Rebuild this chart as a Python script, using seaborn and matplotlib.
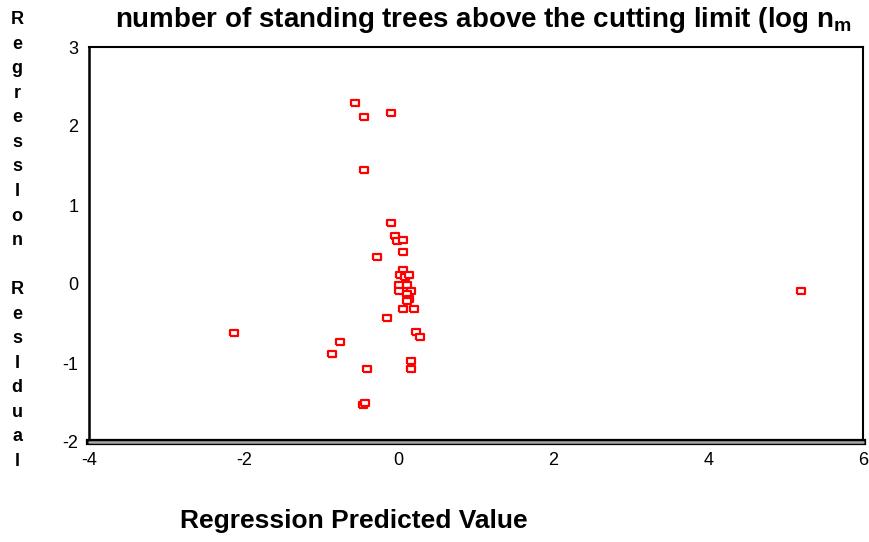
import numpy as np
import pandas as pd
import matplotlib
matplotlib.use("Agg")
import matplotlib.pyplot as plt
import seaborn as sns

# ---- data ----
predicted = [-0.568, -0.452, -0.103, -0.452, -0.103, -0.048, -0.022, 0.052, 0.052,
             -0.280, 0.052, 0.022, 0.077, 0.133, 0.000, 0.103, 0.000, 0.159, 0.103,
             0.133, 0.103, 0.052, 0.203, -0.151, 0.228, 0.280, -2.129, -0.761,
             -0.861, -0.404, 0.155, 0.155, -0.455, -0.430, 5.200]
residual = [2.291, 2.114, 2.165, 1.443, 0.776, 0.608, 0.541, 0.561, 0.409,
            0.346, 0.173, 0.110, 0.089, 0.110, -0.016, -0.016, -0.085, -0.085, -0.127,
            -0.190, -0.211, -0.320, -0.320, -0.430, -0.604, -0.667, -0.620, -0.734,
            -0.882, -1.080, -0.971, -1.080, -1.532, -1.510, -0.089]
x_ticks = [-4, -2, 0, 2, 4, 6]
y_ticks = [-2, -1, 0, 1, 2, 3]
title = "number of standing trees above the cutting limit (log n$_{\\mathregular{m}}$"
xlabel = "Regression Predicted Value"
ylabel = "Regression Residual".replace("i", "I")

df = pd.DataFrame({"pred": predicted, "resid": residual})

sns.set_theme(style="white")
plt.rcParams["font.family"] = ["Liberation Sans", "DejaVu Sans"]
plt.rcParams["text.color"] = "black"
plt.rcParams["axes.labelcolor"] = "black"
plt.rcParams["xtick.color"] = "black"
plt.rcParams["ytick.color"] = "black"

fig = plt.figure(figsize=(8.7, 5.42), dpi=100)
ax = fig.add_axes([89 / 870, 1 - 442 / 542, (863 - 89) / 870, (442 - 47) / 542])

rect = [(-1.35, -1), (1.35, -1), (1.35, 1), (-1.35, 1), (-1.35, -1)]
sns.scatterplot(data=df, x="pred", y="resid", ax=ax, marker=rect, s=32,
                color="red", facecolor="white", edgecolor="red", linewidth=1.6,
                zorder=3)

ax.set_xlim(-4, 6)
ax.set_ylim(-2, 3)
ax.set_xticks(x_ticks)
ax.set_yticks(y_ticks)
ax.set_xticklabels([str(t) for t in x_ticks])
ax.set_yticklabels([str(t) for t in y_ticks])
ax.tick_params(axis="both", direction="out", length=3.5, width=3, color="black",
               labelsize=13, labelcolor="black", pad=4)

for side in ["top", "right"]:
    ax.spines[side].set_visible(True)
    ax.spines[side].set_color("black")
    ax.spines[side].set_linewidth(1.5)
ax.spines["left"].set_color("black")
ax.spines["left"].set_linewidth(1.8)
ax.spines["bottom"].set_color("black")
ax.spines["bottom"].set_linewidth(4.5)
ax.axhline(-2, color="#a8a8a8", lw=1.8, clip_on=False, zorder=5)

ax.set_xlabel(xlabel, fontsize=19, fontweight="bold")
ax.xaxis.set_label_coords(0.342, -0.17)

ax.set_ylabel("\n".join(ylabel), rotation=0, fontsize=13, fontweight="bold",
              linespacing=1.58, va="center", ha="center")
ax.yaxis.set_label_coords(-0.093, 0.51)

fig.text(115 / 870, 1 - 20 / 542, title, fontsize=20, fontweight="bold",
         va="center", ha="left")

fig.savefig("out.png", dpi=100)
